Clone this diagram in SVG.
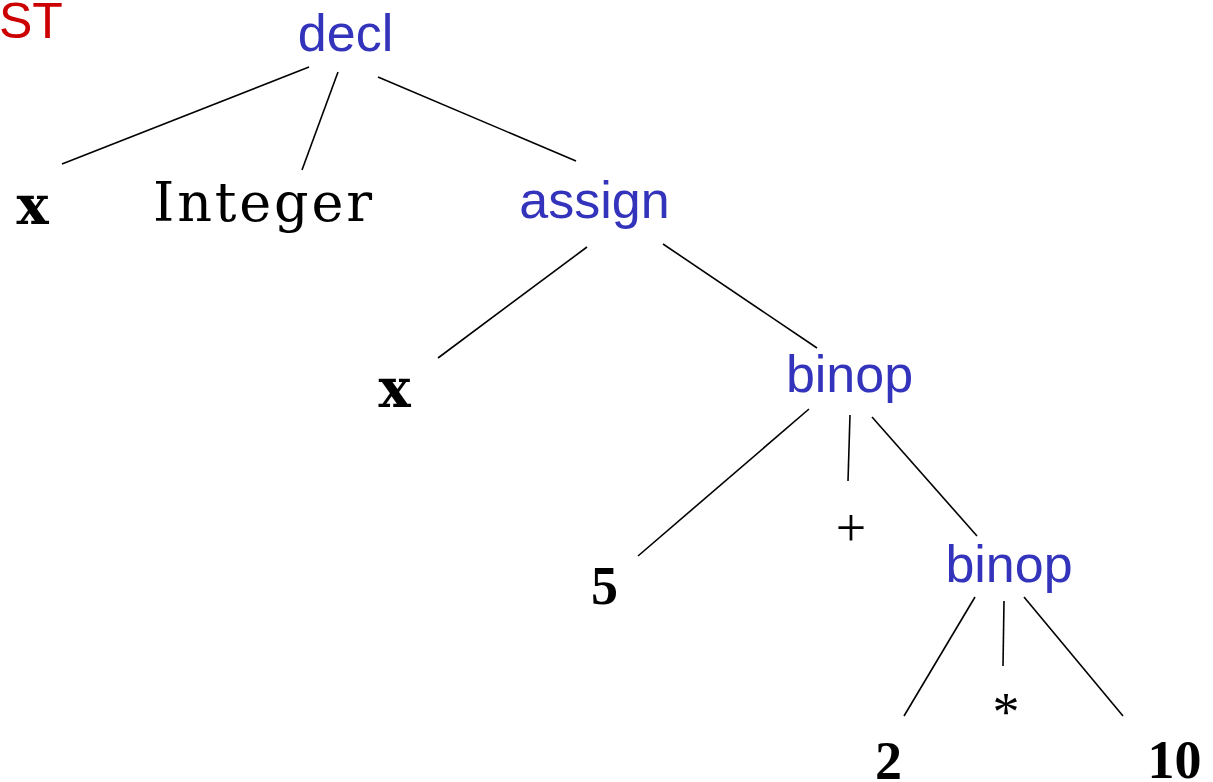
<svg xmlns="http://www.w3.org/2000/svg" width="1213" height="782" viewBox="0 0 1213 782">
  <style>
    .nt { font-family: "Liberation Sans", Arial, sans-serif; font-size: 52px; fill: #3333bb; text-anchor: middle; }
    .tok { font-family: "Liberation Serif", "Times New Roman", serif; font-size: 54px; fill: #000; text-anchor: middle; }
    .wide { font-family: "DejaVu Serif", "Liberation Serif", serif; }
    .b { font-weight: bold; }
    .title { font-family: "Liberation Sans", Arial, sans-serif; font-size: 50px; fill: #cc0000; }
    .edges line { stroke: #000; stroke-width: 1.6; stroke-linecap: butt; }
  </style>
  <rect width="1213" height="782" fill="#fff"/>

  <text class="title" x="-1" y="38">ST</text>

  <g class="edges" id="edges">
    <line x1="309" y1="67" x2="62" y2="164"/>
    <line x1="338" y1="72" x2="302" y2="170"/>
    <line x1="378" y1="77" x2="576" y2="161"/>
    <line x1="587" y1="247" x2="438" y2="358"/>
    <line x1="663" y1="244" x2="817" y2="348"/>
    <line x1="809" y1="409" x2="638" y2="556"/>
    <line x1="850" y1="415" x2="848" y2="481"/>
    <line x1="872" y1="417" x2="977" y2="536"/>
    <line x1="975" y1="597" x2="904" y2="716"/>
    <line x1="1004" y1="601" x2="1003" y2="666"/>
    <line x1="1024" y1="597" x2="1123" y2="716"/>
  </g>

  <g id="decl"><text class="nt" x="345.5" y="51">decl</text></g>
  <g id="x1"><text class="tok wide b" x="32.5" y="224" font-size="48">x</text></g>
  <g id="integer"><text class="tok wide" x="153" y="221" font-size="52" style="text-anchor:start" textLength="219" lengthAdjust="spacing">Integer</text></g>
  <g id="assign"><text class="nt" x="594.5" y="218">assign</text></g>
  <g id="x2"><text class="tok wide b" x="394.5" y="407" font-size="48">x</text></g>
  <g id="binop1"><text class="nt" x="849.5" y="392">binop</text></g>
  <g id="n5"><text class="tok b" x="604.5" y="604">5</text></g>
  <g id="plus"><text class="tok" x="851" y="546">+</text></g>
  <g id="binop2"><text class="nt" x="1009" y="582">binop</text></g>
  <g id="n2"><text class="tok b" x="888.5" y="779">2</text></g>
  <g id="star"><text class="tok" x="1006" y="730">*</text></g>
  <g id="n10"><text class="tok b" x="1174.5" y="778">10</text></g>
</svg>
